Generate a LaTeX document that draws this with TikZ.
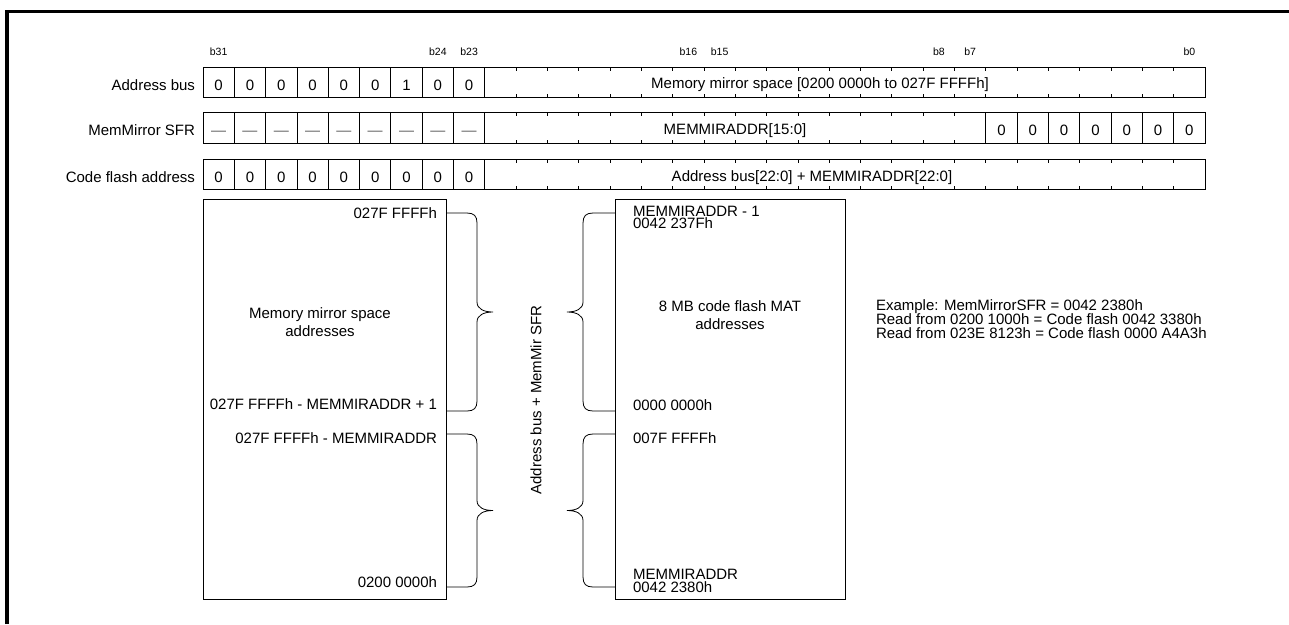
\documentclass[tikz,border=0pt]{standalone}
\usepackage{fontspec}
\setmainfont{Liberation Sans}
\usetikzlibrary{calc}
\newcommand\tightlines{\lineskiplimit=-10pt\relax}
% brace opening to the left of its tip ("}" shape), start at box edge
\newcommand\braceTipRight[2]{\draw[brace] (#1) -- ++(21,0) .. controls +(7,0) and +(0,-7) .. ++(10,10) -- ++(0,#2) .. controls +(0,7) and +(-9,0) .. ++(16,10) .. controls +(-9,0) and +(0,-7) .. ++(-16,10) -- ++(0,#2) .. controls +(0,7) and +(7,0) .. ++(-10,10) -- ++(-21,0);}
% brace "{" shape, start at box edge on its right
\newcommand\braceTipLeft[2]{\draw[brace] (#1) -- ++(-22,0) .. controls +(-7,0) and +(0,-7) .. ++(-10,10) -- ++(0,#2) .. controls +(0,7) and +(9,0) .. ++(-16,10) .. controls +(9,0) and +(0,-7) .. ++(16,10) -- ++(0,#2) .. controls +(0,7) and +(-7,0) .. ++(10,10) -- ++(22,0);}
\begin{document}
\begin{tikzpicture}[x=1pt,y=-1pt,
  every node/.style={font=\fontsize{15}{18}\selectfont, inner sep=0pt, outer sep=0pt},
  cell/.style={draw, line width=0.8pt, minimum width=31.3125pt, minimum height=30.5pt,
               anchor=north west, text height=16pt, text depth=0pt},
  dashcell/.style={cell, text=black!60},
  bitlbl/.style={font=\fontsize{10.5}{12}\selectfont, anchor=base},
  rowlbl/.style={anchor=base east},
  mem/.style={draw, line width=0.8pt, anchor=north west},
  brace/.style={line width=0.8pt},
  tick/.style={line width=0.8pt},
  frame/.style={line width=3.5pt}]
\useasboundingbox (0,0) rectangle (1289,624);
\def\w{31.3125}
% outer frame (left and top edges)
\draw[frame] (7,624) -- (7,11.5) -- (1289,11.5);

% bit labels
\node[bitlbl] (b31) at ({203+0.5*\w},55) {b31};
\node[bitlbl] (b24) at ({203+7.5*\w},55) {b24};
\node[bitlbl] (b23) at ({203+8.5*\w},55) {b23};
\node[bitlbl] (b16) at ({203+15.5*\w},55) {b16};
\node[bitlbl] (b15) at ({203+16.5*\w},55) {b15};
\node[bitlbl] (b8)  at ({203+23.5*\w},55) {b8};
\node[bitlbl] (b7)  at ({203+24.5*\w},55) {b7};
\node[bitlbl] (b0)  at ({203+31.5*\w},55) {b0};

% row labels
\node[rowlbl] (la) at (195,90) {Address bus};
\node[rowlbl] (lb) at (195,135.5) {MemMirror SFR};
\node[rowlbl] (lc) at (195,182) {Code flash address};

% row 1: address bus
\foreach \v [count=\i from 0] in {0,0,0,0,0,0,1,0,0}
  \node[cell] (a\i) at ({203+\i*\w},67) {\v};
\node[cell, minimum width=720.1875pt] (am) at ({203+9*\w},67) {};
\foreach \k in {1,...,22}{
  \draw[tick] ({203+(9+\k)*\w},67) -- ++(0,3.5);
  \draw[tick] ({203+(9+\k)*\w},97.5) -- ++(0,-3.5);}
\node[anchor=base] (at) at (820,88) {Memory mirror space [0200 0000h to 027F FFFFh]};

% row 2: MemMirror SFR
\foreach \i in {0,...,8}
  \node[dashcell] (s\i) at ({203+\i*\w},112.5) {—};
\node[cell, minimum width=501pt] (sm) at ({203+9*\w},112.5) {};
\foreach \k in {1,...,15}{
  \draw[tick] ({203+(9+\k)*\w},112.5) -- ++(0,3.5);
  \draw[tick] ({203+(9+\k)*\w},143) -- ++(0,-3.5);}
\foreach \j in {0,...,6}
  \node[cell] (z\j) at ({203+(25+\j)*\w},112.5) {0};
\node[anchor=base] (st) at (735,134) {MEMMIRADDR[15:0]};

% row 3: code flash address
\foreach \i in {0,...,8}
  \node[cell] (c\i) at ({203+\i*\w},159) {0};
\node[cell, minimum width=720.1875pt] (cm) at ({203+9*\w},159) {};
\foreach \k in {1,...,22}{
  \draw[tick] ({203+(9+\k)*\w},159) -- ++(0,3.5);
  \draw[tick] ({203+(9+\k)*\w},189.5) -- ++(0,-3.5);}
\node[anchor=base] (ct) at (812,181) {Address bus[22:0] + MEMMIRADDR[22:0]};

% memory mirror space box
\node[mem, minimum width=243pt, minimum height=400pt] (L) at (203,199) {};
\node[anchor=base east] (L1) at (437,218) {027F FFFFh};
\node[align=center] (Lc) at (320,322) {Memory mirror space\\addresses};
\node[anchor=base east] (L2) at (437,409) {027F FFFFh - MEMMIRADDR + 1};
\node[anchor=base east] (L3) at (437,443) {027F FFFFh - MEMMIRADDR};
\node[anchor=base east] (L4) at (437,587) {0200 0000h};

% code flash box
\node[mem, minimum width=230pt, minimum height=400pt] (R) at (615,199) {};
\node[align=left, anchor=north west, font={\fontsize{15}{12.6}\selectfont\tightlines}] (R1) at (633,206) {MEMMIRADDR - 1\\0042 237Fh};
\node[align=center] (Rc) at (730,315) {8 MB code flash MAT\\addresses};
\node[anchor=base west] (R2) at (633,410) {0000 0000h};
\node[anchor=base west] (R3) at (633,443) {007F FFFFh};
\node[align=left, anchor=north west, font={\fontsize{15}{12.7}\selectfont\tightlines}] (R4) at (633,569.3) {MEMMIRADDR\\0042 2380h};

% braces
\braceTipRight{$(L.north east)+(0,14)$}{79}
\braceTipRight{$(L.north east)+(0,235)$}{56.5}
\braceTipLeft{$(R.north west)+(0,14)$}{79}
\braceTipLeft{$(R.north west)+(0,235)$}{56.5}

% vertical label
\node[rotate=90] (vt) at (536,400) {Address bus + MemMir SFR};

% example
\node[align=left, anchor=north west, font={\fontsize{15}{13.8}\selectfont\tightlines}] (ex) at (876,300)
  {Example: MemMirrorSFR = 0042 2380h\\Read from 0200 1000h = Code flash 0042 3380h\\Read from 023E 8123h = Code flash 0000 A4A3h};
\end{tikzpicture}
\end{document}
